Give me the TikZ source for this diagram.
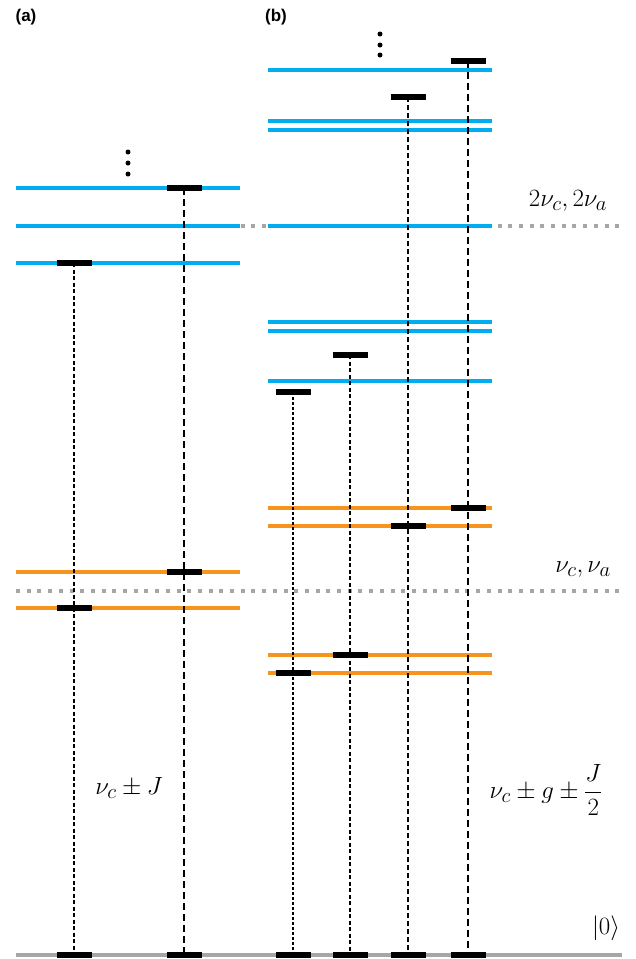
\documentclass[tikz,border=0pt]{standalone}
\usepackage{fontspec}
\newfontfamily\labfont{Liberation Sans}
\definecolor{lvblue}{HTML}{00AEEF}
\definecolor{lvorange}{HTML}{F7941D}
\definecolor{lvgray}{HTML}{A6A6A6}
\begin{document}
\begin{tikzpicture}[x=1pt,y=-1pt,
  bluelvl/.style={draw=lvblue,line width=4pt},
  orangelvl/.style={draw=lvorange,line width=4pt},
  refline/.style={draw=lvgray,line width=4pt,dash pattern=on 4pt off 6.7pt},
  ground/.style={draw=lvgray,line width=4.5pt},
  blk/.style={draw=black,line width=5.5pt},
  trans/.style={draw=black,line width=2pt},
  panel/.style={font=\labfont\bfseries\fontsize{17}{20}\selectfont},
  mathlab/.style={font=\fontsize{29}{34}\selectfont},
  dot/.style={fill=black,circle,inner sep=0pt,minimum size=5pt}]
\useasboundingbox (0,0) rectangle (636,959);
% reference dotted lines
\coordinate (r2l) at (16,226); \coordinate (r2r) at (620,226);
\coordinate (r1l) at (16,591); \coordinate (r1r) at (620,591);
\draw[refline] (r2l) -- (r2r);
\draw[refline] (r1l) -- (r1r);
% ground
\coordinate (gl) at (16,955); \coordinate (gr) at (622,955);
\draw[ground] (gl) -- (gr);
% panel (a) levels
\foreach \y in {188,226,263} \draw[bluelvl] (16,\y) -- (240,\y);
\foreach \y in {572,608} \draw[orangelvl] (16,\y) -- (240,\y);
% panel (b) levels
\foreach \y in {70,121,130,226,322,331,381} \draw[bluelvl] (268,\y) -- (492,\y);
\foreach \y in {508,526,655,673} \draw[orangelvl] (268,\y) -- (492,\y);
% transition end points
\coordinate (a1t) at (74,263);  \coordinate (a1b) at (74,955);
\coordinate (a2t) at (184,188); \coordinate (a2b) at (184,955);
\coordinate (b1t) at (293,392); \coordinate (b1b) at (293,955);
\coordinate (b2t) at (350,355); \coordinate (b2b) at (350,955);
\coordinate (b3t) at (408,97);  \coordinate (b3b) at (408,955);
\coordinate (b4t) at (468,61);  \coordinate (b4b) at (468,955);
\draw[trans,dash pattern=on 4pt off 2.5pt] (a1t) -- (a1b);
\draw[trans,dash pattern=on 7pt off 4pt] (a2t) -- (a2b);
\draw[trans,dash pattern=on 3pt off 2pt] (b1t) -- (b1b);
\draw[trans,dash pattern=on 4pt off 2.5pt] (b2t) -- (b2b);
\draw[trans,dash pattern=on 5pt off 3pt] (b3t) -- (b3b);
\draw[trans,dash pattern=on 7pt off 4pt] (b4t) -- (b4b);
% black blocks
\foreach \c/\y in {74/263,184/188,74/608,184/572,
                   293/392,350/355,408/97,468/61,
                   468/508,408/526,350/655,293/673,
                   74/955,184/955,293/955,350/955,408/955,468/955}
  \draw[blk] (\c-17.5,\y) -- (\c+17.5,\y);
% dots
\node[dot] (da1) at (128,152) {}; \node[dot] (da2) at (128,163) {}; \node[dot] (da3) at (128,174) {};
\node[dot] (db1) at (380,34) {}; \node[dot] (db2) at (380,45) {}; \node[dot] (db3) at (380,55) {};
% labels
\node[panel] (pa) at (26,17) {(a)};
\node[panel] (pb) at (276,17) {(b)};
\node[mathlab] (l2) at (568,201) {$2\nu_c, 2\nu_a$};
\node[mathlab] (l1) at (583,570) {$\nu_c, \nu_a$};
\node[mathlab] (lj) at (129,788) {$\nu_c \pm J$};
\node[mathlab] (lg) at (546,790) {$\nu_c \pm g \pm \displaystyle\frac{J}{2}$};
\node[mathlab] (l0) at (606,928) {$|0\rangle$};
\end{tikzpicture}
\end{document}
